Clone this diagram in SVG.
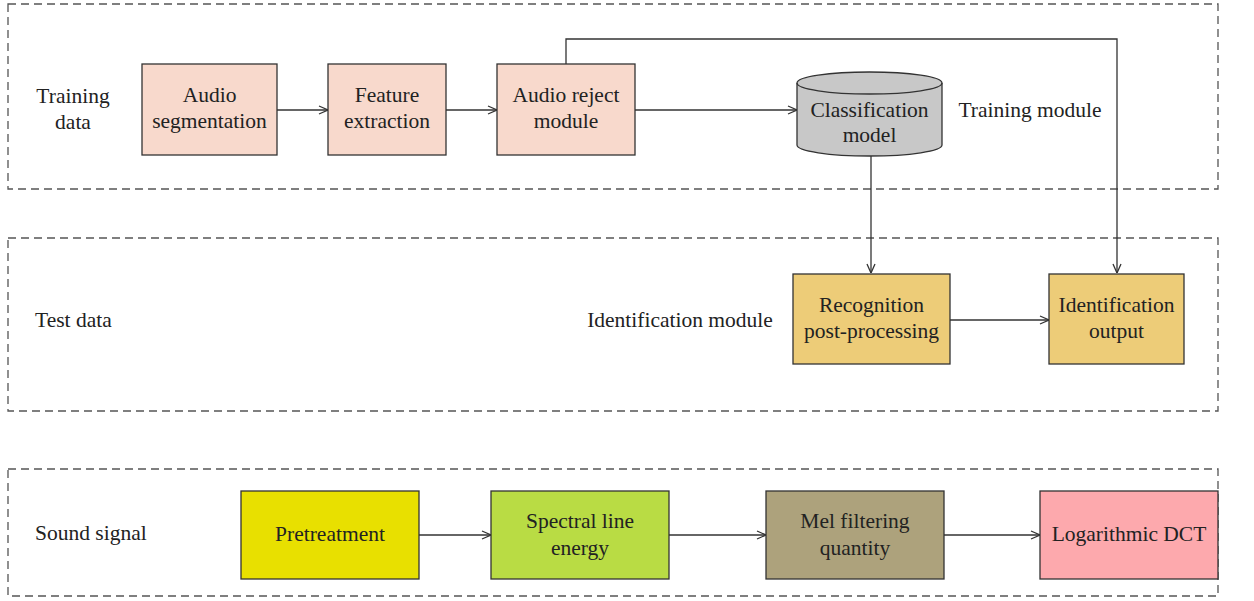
<svg xmlns="http://www.w3.org/2000/svg" width="1254" height="601" viewBox="0 0 1254 601">
<style>
text{font-family:"Liberation Serif","DejaVu Serif",serif;font-size:21.5px;fill:#222;text-anchor:middle;dominant-baseline:central}
.lbl{text-anchor:start}
.frame{fill:none;stroke:#555;stroke-width:1.3;stroke-dasharray:8,5}
.box{stroke:#333;stroke-width:1.3}
.con{fill:none;stroke:#333;stroke-width:1.3;marker-end:url(#arr)}
</style>
<defs>
<marker id="arr" viewBox="0 0 10 10" refX="10" refY="5" markerWidth="10" markerHeight="10" markerUnits="userSpaceOnUse" orient="auto">
<path d="M1,1 L10,5 L1,9" fill="none" stroke="#333" stroke-width="1.3"/>
</marker>
</defs>
<g id="frames">
<rect class="frame" x="8" y="4" width="1210" height="185"/>
<rect class="frame" x="8" y="238" width="1210" height="173"/>
<rect class="frame" x="8" y="469" width="1210" height="127"/>
</g>
<g id="labels">
<text x="73" y="96">Training</text>
<text x="73" y="122">data</text>
<text class="lbl" x="35" y="320">Test data</text>
<text class="lbl" x="35" y="533">Sound signal</text>
<text x="1030" y="110">Training module</text>
<text x="680" y="320">Identification module</text>
</g>
<g id="connectors">
<path class="con" d="M277,110 H328"/>
<path class="con" d="M446,110 H497"/>
<path class="con" d="M635,110 H797"/>
<path class="con" d="M566,64 V39 H1117 V273"/>
<path class="con" d="M871,156 V273"/>
<path class="con" d="M950,320 H1049"/>
<path class="con" d="M419,535 H491"/>
<path class="con" d="M669,535 H766"/>
<path class="con" d="M944,535 H1040"/>
</g>
<g id="audio-segmentation">
<rect class="box" x="142" y="64" width="135" height="91" fill="#f8d9cc"/>
<text x="209.5" y="95">Audio</text>
<text x="209.5" y="121">segmentation</text>
</g>
<g id="feature-extraction">
<rect class="box" x="328" y="64" width="118" height="91" fill="#f8d9cc"/>
<text x="387" y="95">Feature</text>
<text x="387" y="121">extraction</text>
</g>
<g id="audio-reject">
<rect class="box" x="497" y="64" width="138" height="91" fill="#f8d9cc"/>
<text x="566" y="95">Audio reject</text>
<text x="566" y="121">module</text>
</g>
<g id="classification-model">
<path class="box" d="M797,83 V145 A72.5,11 0 0 0 942,145 V83 A72.5,11 0 0 0 797,83 Z" fill="#c8c8c8"/>
<path d="M797,83 A72.5,11 0 0 0 942,83" fill="none" stroke="#333" stroke-width="1.3"/>
<text x="869.5" y="110">Classification</text>
<text x="869.5" y="135">model</text>
</g>
<g id="recognition">
<rect class="box" x="793" y="274" width="157" height="90" fill="#edcc78"/>
<text x="871.5" y="305">Recognition</text>
<text x="871.5" y="331">post-processing</text>
</g>
<g id="identification-output">
<rect class="box" x="1049" y="274" width="135" height="90" fill="#edcc78"/>
<text x="1116.5" y="305">Identification</text>
<text x="1116.5" y="331">output</text>
</g>
<g id="pretreatment">
<rect class="box" x="241" y="491" width="178" height="88" fill="#e8e000"/>
<text x="330" y="534">Pretreatment</text>
</g>
<g id="spectral">
<rect class="box" x="491" y="491" width="178" height="88" fill="#b9dc44"/>
<text x="580" y="521">Spectral line</text>
<text x="580" y="548">energy</text>
</g>
<g id="mel">
<rect class="box" x="766" y="491" width="178" height="88" fill="#ada27c"/>
<text x="855" y="521">Mel filtering</text>
<text x="855" y="548">quantity</text>
</g>
<g id="log-dct">
<rect class="box" x="1040" y="491" width="178" height="88" fill="#fda9ad"/>
<text x="1129" y="534">Logarithmic DCT</text>
</g>
</svg>
